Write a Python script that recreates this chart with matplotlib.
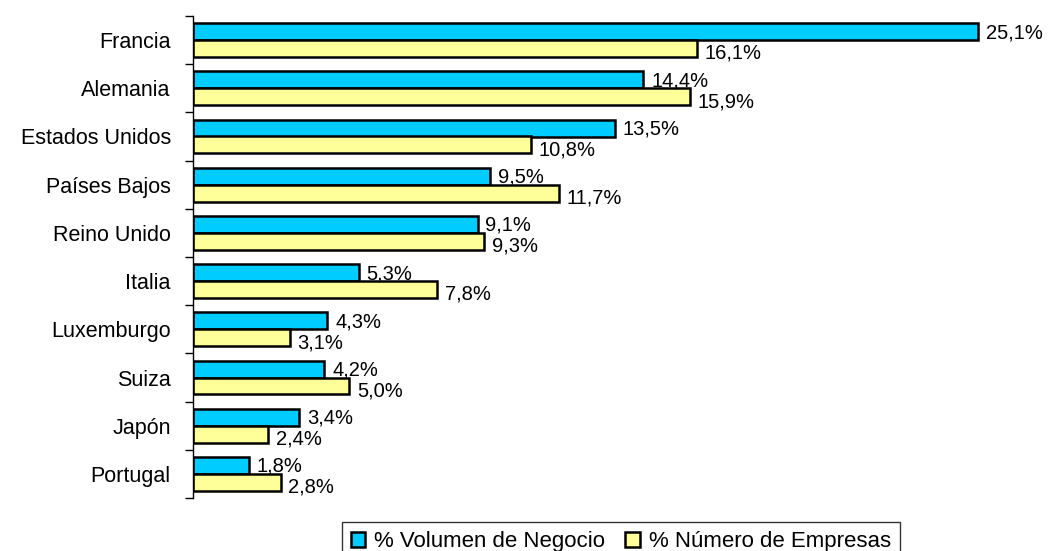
import numpy as np
import matplotlib.pyplot as plt
from matplotlib.patches import Patch

plt.rcParams['font.family'] = ['Liberation Sans', 'DejaVu Sans']

paises = ['Francia', 'Alemania', 'Estados Unidos', 'Países Bajos', 'Reino Unido',
          'Italia', 'Luxemburgo', 'Suiza', 'Japón', 'Portugal']
volumen = [25.1, 14.4, 13.5, 9.5, 9.1, 5.3, 4.3, 4.2, 3.4, 1.8]
empresas = [16.1, 15.9, 10.8, 11.7, 9.3, 7.8, 3.1, 5.0, 2.4, 2.8]

azul = '#00CCFF'
amarillo = '#FFFF99'
fs = 14.5

fig = plt.figure(figsize=(10.54, 5.51), dpi=100)
ax = fig.add_axes([193/1054, 53/551, 817/1054, 482/551])

n = len(paises)
y = np.arange(n)
h = 0.35
ax.barh(y - h/2, volumen, height=h, color=azul, edgecolor='black', linewidth=1.8)
ax.barh(y + h/2, empresas, height=h, color=amarillo, edgecolor='black', linewidth=1.8)

for i in range(n):
    ax.annotate(f'{volumen[i]:.1f}%'.replace('.', ','), (volumen[i], y[i] - h/2 + 0.02),
                xytext=(5.5, 0), textcoords='offset points',
                va='center', ha='left', fontsize=fs)
    ax.annotate(f'{empresas[i]:.1f}%'.replace('.', ','), (empresas[i], y[i] + h/2 + 0.1),
                xytext=(5.5, 0), textcoords='offset points',
                va='center', ha='left', fontsize=fs)

ax.set_ylim(n - 0.5, -0.5)
ax.set_xlim(0, 26.12)

ax.set_yticks(np.arange(-0.5, n, 1))
ax.set_yticklabels([])
ax.set_yticks(y, minor=True)
ax.set_yticklabels(paises, minor=True, fontsize=15.5)
ax.tick_params(axis='y', which='major', length=6, width=1, direction='out')
ax.tick_params(axis='y', which='minor', length=0, pad=16)
ax.set_xticks([])

for s in ['top', 'right', 'bottom']:
    ax.spines[s].set_visible(False)
ax.spines['left'].set_linewidth(1)

handles = [Patch(facecolor=azul, edgecolor='black', linewidth=1.8),
           Patch(facecolor=amarillo, edgecolor='black', linewidth=1.8)]
leg = fig.legend(handles, ['% Volumen de Negocio', '% Número de Empresas'],
                 loc='upper left', bbox_to_anchor=(342/1054, 1 - 522/551), ncol=2,
                 fontsize=16, frameon=True, fancybox=False, edgecolor='black',
                 handlelength=0.65, handleheight=0.65, handletextpad=0.4,
                 columnspacing=0.9, borderpad=0.4, borderaxespad=0)
leg.get_frame().set_linewidth(1)

fig.savefig('out.png', dpi=100)
